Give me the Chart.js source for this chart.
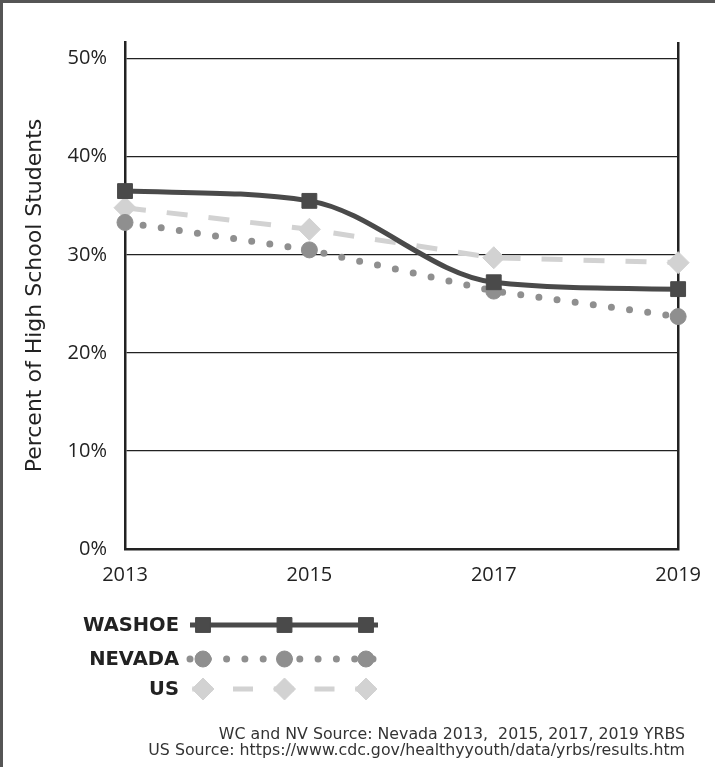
<!DOCTYPE html>
<html>
<head>
<meta charset="utf-8">
<script src="https://cdn.jsdelivr.net/npm/chart.js@4.4.1/dist/chart.umd.min.js"></script>
<style>
  body { margin: 0; background: #fff; }
  #contenedor_graf { position: relative; width: 715px; height: 767px; }
</style>
</head>
<body>
<div id="contenedor_graf"><canvas id="myChart"></canvas></div>
<script>
// data
var years = ['2013', '2015', '2017', '2019'];
var washoe = [36.5, 35.5, 27.2, 26.5];
var nevada = [33.3, 30.5, 26.3, 23.7];
var us = [34.8, 32.6, 29.7, 29.2];
var yTicks = [0, 10, 20, 30, 40, 50];
var sourceLines = [
    'WC and NV Source: Nevada 2013,  2015, 2017, 2019 YRBS',
    'US Source: https://www.cdc.gov/healthyyouth/data/yrbs/results.htm'
];

var fuente = "'Open Sans', sans-serif";
var ancha = "'DejaVu Sans', sans-serif";
var tinta = '#222';

// frame, bottom legend and source note
var extras = {
    id: 'extras',
    beforeDraw: function(chart) {
        var c = chart.ctx;
        c.save();
        c.fillStyle = '#fff';
        c.fillRect(0, 0, chart.width, chart.height);
        c.strokeStyle = '#555';
        c.lineWidth = 3;
        c.beginPath();
        c.moveTo(1.5, chart.height);
        c.lineTo(1.5, 1.5);
        c.lineTo(chart.width, 1.5);
        c.stroke();
        c.restore();
    },
    afterDraw: function(chart) {
        var c = chart.ctx;
        var filas = [625, 659, 689];
        var xs = [203, 284.5, 366];
        c.save();
        chart.data.datasets.forEach(function(ds, i) {
            var y = filas[i];
            c.font = 'bold 19.5px ' + ancha;
            c.fillStyle = tinta;
            c.textAlign = 'right';
            c.textBaseline = 'middle';
            c.fillText(ds.label, 179, y + 1);
            c.strokeStyle = ds.borderColor;
            c.lineWidth = ds.borderWidth;
            c.lineCap = ds.borderCapStyle || 'butt';
            c.setLineDash(ds.legendDash || ds.borderDash || []);
            c.lineDashOffset = ds.legendDashOffset || 0;
            c.beginPath();
            c.moveTo(190, y);
            c.lineTo(378, y);
            c.stroke();
            c.setLineDash([]);
            c.fillStyle = ds.pointBackgroundColor;
            c.strokeStyle = ds.pointBackgroundColor;
            c.lineWidth = 1;
            xs.forEach(function(x) {
                Chart.helpers.drawPoint(c, {
                    pointStyle: ds.pointStyle,
                    radius: ds.pointRadius,
                    borderWidth: 1,
                    rotation: 0
                }, x, y);
            });
        });
        c.restore();

        c.save();
        c.font = '15.8px ' + ancha;
        c.fillStyle = '#333';
        c.textAlign = 'right';
        c.textBaseline = 'middle';
        c.fillText(sourceLines[0], 685, 735);
        c.fillText(sourceLines[1], 685, 751);
        c.restore();
    }
};

var ctx = document.getElementById('myChart');
var myChart = new Chart(ctx, {
    type: 'line',
    data: {
        labels: years,
        datasets: [{
            label: 'WASHOE',
            data: washoe,
            borderColor: '#4a4a4a',
            backgroundColor: '#4a4a4a',
            pointBackgroundColor: '#4a4a4a',
            pointBorderColor: '#4a4a4a',
            borderWidth: 5,
            pointStyle: 'rect',
            pointRadius: 10.5,
            pointBorderWidth: 1,
            cubicInterpolationMode: 'monotone'
        }, {
            label: 'NEVADA',
            data: nevada,
            borderColor: '#8f8f8f',
            backgroundColor: '#8f8f8f',
            pointBackgroundColor: '#8f8f8f',
            pointBorderColor: '#8f8f8f',
            borderWidth: 7,
            borderDash: [0, 18.3],
            borderCapStyle: 'round',
            pointStyle: 'circle',
            pointRadius: 8,
            pointBorderWidth: 1,
            tension: 0
        }, {
            label: 'US',
            data: us,
            borderColor: '#d2d2d2',
            backgroundColor: '#d2d2d2',
            pointBackgroundColor: '#d2d2d2',
            pointBorderColor: '#d2d2d2',
            borderWidth: 5,
            borderDash: [21, 21],
            legendDash: [20, 20.75],
            legendDashOffset: -2.25,
            pointStyle: 'rectRot',
            pointRadius: 11,
            pointBorderWidth: 1,
            tension: 0
        }]
    },
    options: {
        responsive: true,
        maintainAspectRatio: false,
        animation: false,
        layout: { padding: { left: 20, top: 42, right: 34, bottom: 0 } },
        plugins: {
            legend: { display: false },
            tooltip: { enabled: false }
        },
        scales: {
            x: {
                afterFit: function(scale) { scale.height = 218; },
                grid: {
                    drawTicks: false,
                    lineWidth: 2.5,
                    color: function(c) { return c.index === years.length - 1 ? tinta : 'rgba(0,0,0,0)'; }
                },
                border: { color: tinta, width: 2.5 },
                ticks: {
                    padding: 14,
                    color: tinta,
                    font: { family: fuente, size: 20 }
                }
            },
            y: {
                min: 0,
                max: 51.7,
                afterFit: function(scale) { scale.width = 105; },
                afterBuildTicks: function(scale) {
                    scale.ticks = yTicks.map(function(v) { return { value: v }; });
                },
                grid: { drawTicks: false, color: tinta, lineWidth: 1.3 },
                border: { color: tinta, width: 2.5 },
                ticks: {
                    padding: 18,
                    color: tinta,
                    font: { family: fuente, size: 20 },
                    callback: function(v) { return v + '%'; }
                },
                title: {
                    display: true,
                    text: 'Percent of High School Students',
                    color: tinta,
                    font: { family: ancha, size: 22 },
                    padding: { top: 2, bottom: 0 }
                }
            }
        }
    },
    plugins: [extras]
});
</script>
</body>
</html>
